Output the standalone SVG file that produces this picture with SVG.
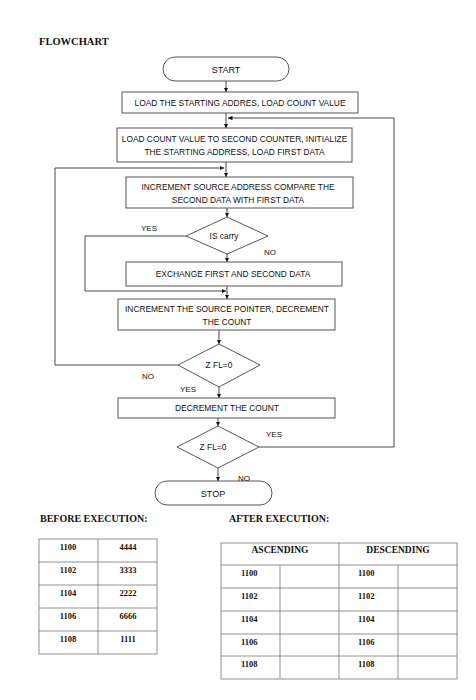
<svg xmlns="http://www.w3.org/2000/svg" width="476" height="700" viewBox="0 0 476 700">
<style>
.bx{fill:#fff;stroke:#444;stroke-width:0.9}
.ln{fill:none;stroke:#333;stroke-width:0.9}
.t{font-family:"Liberation Sans",Arial,sans-serif;font-size:8.4px;fill:#111;text-anchor:middle}
.lb{font-family:"Liberation Sans",Arial,sans-serif;font-size:8px;fill:#111}
.h{font-family:"Liberation Serif","Times New Roman",serif;font-size:10px;font-weight:bold;fill:#111}
.n{font-family:"Liberation Serif","Times New Roman",serif;font-size:8.5px;font-weight:bold;fill:#111}
.tb{fill:none;stroke:#777;stroke-width:0.8}
</style>
<defs>
<marker id="ah" viewBox="0 0 8 8" refX="8" refY="4" markerWidth="4.5" markerHeight="4.5" orient="auto" markerUnits="userSpaceOnUse">
<path d="M0,0 L8,4 L0,8 Z" fill="#111"/>
</marker>
</defs>
<rect width="476" height="700" fill="#fff"/>
<text class="h" x="39" y="45" style="font-size:10.5px">FLOWCHART</text>

<g id="start"><rect class="bx" x="163" y="57" width="126" height="24" rx="12"/><text class="t" x="226" y="72.5" style="font-size:9px">START</text></g>
<g id="load1"><rect class="bx" x="122" y="92" width="236" height="21"/><text class="t" x="240" y="105.5">LOAD THE STARTING ADDRES, LOAD COUNT VALUE</text></g>
<g id="load2"><rect class="bx" x="117" y="128" width="235" height="34"/><text class="t" x="234.5" y="141.5">LOAD COUNT VALUE TO SECOND COUNTER, INITIALIZE</text><text class="t" x="234.5" y="155">THE STARTING ADDRESS, LOAD FIRST DATA</text></g>
<g id="compare"><rect class="bx" x="126" y="177" width="227" height="31"/><text class="t" x="238" y="189.5">INCREMENT SOURCE ADDRESS COMPARE THE</text><text class="t" x="238" y="202.5">SECOND DATA WITH FIRST DATA</text></g>
<g id="iscarry"><polygon class="bx" points="227,217 268,236 227,254 186,236"/><text class="t" x="224" y="239">IS carry</text></g>
<g id="exchange"><rect class="bx" x="126" y="262" width="216" height="24"/><text class="t" x="233" y="277">EXCHANGE FIRST AND SECOND DATA</text></g>
<g id="incptr"><rect class="bx" x="118" y="299" width="217" height="31"/><text class="t" x="227" y="311.5">INCREMENT THE SOURCE POINTER, DECREMENT</text><text class="t" x="227" y="324.5">THE COUNT</text></g>
<g id="zfl1"><polygon class="bx" points="219,344 260,365 219,387 178,365"/><text class="t" x="219" y="368">Z FL=0</text></g>
<g id="deccount"><rect class="bx" x="118" y="398" width="217" height="20"/><text class="t" x="227" y="411">DECREMENT THE COUNT</text></g>
<g id="zfl2"><polygon class="bx" points="218,426 259,447 218,468 177,447"/><text class="t" x="213" y="450">Z FL=0</text></g>
<g id="stop"><rect class="bx" x="155" y="481" width="117" height="24" rx="12"/><text class="t" x="213" y="496.5" style="font-size:9px">STOP</text></g>

<g id="connectors">
<line class="ln" x1="226" y1="81" x2="226" y2="92" marker-end="url(#ah)"/>
<line class="ln" x1="226" y1="113" x2="226" y2="128" marker-end="url(#ah)"/>
<line class="ln" x1="226" y1="162" x2="226" y2="177" marker-end="url(#ah)"/>
<line class="ln" x1="227" y1="208" x2="227" y2="217" marker-end="url(#ah)"/>
<line class="ln" x1="227" y1="254" x2="227" y2="262" marker-end="url(#ah)"/>
<line class="ln" x1="227" y1="286" x2="227" y2="299" marker-end="url(#ah)"/>
<line class="ln" x1="219" y1="330" x2="219" y2="344" marker-end="url(#ah)"/>
<line class="ln" x1="219" y1="387" x2="219" y2="398" marker-end="url(#ah)"/>
<line class="ln" x1="218" y1="418" x2="218" y2="426" marker-end="url(#ah)"/>
<line class="ln" x1="218" y1="468" x2="218" y2="481" marker-end="url(#ah)"/>
<polyline class="ln" points="186,236 85,236 85,291 226,291" marker-end="url(#ah)"/>
<polyline class="ln" points="178,365 55,365 55,168 224,168" marker-end="url(#ah)"/>
<polyline class="ln" points="259,447 394,447 394,118 228,118" marker-end="url(#ah)"/>
<text class="lb" x="141" y="231">YES</text>
<text class="lb" x="264" y="255">NO</text>
<text class="lb" x="142" y="379">NO</text>
<text class="lb" x="180" y="392">YES</text>
<text class="lb" x="266" y="437">YES</text>
<text class="lb" x="238" y="481">NO</text>
</g>

<g id="before">
<text class="h" x="40" y="522">BEFORE EXECUTION:</text>
<rect class="tb" x="39" y="539" width="118" height="115"/>
<line class="tb" x1="98" y1="539" x2="98" y2="654"/>
<line class="tb" x1="39" y1="562" x2="157" y2="562"/>
<line class="tb" x1="39" y1="585" x2="157" y2="585"/>
<line class="tb" x1="39" y1="608" x2="157" y2="608"/>
<line class="tb" x1="39" y1="631" x2="157" y2="631"/>
<g class="n" text-anchor="middle">
<text x="68" y="550">1100</text><text x="128" y="550">4444</text>
<text x="68" y="573">1102</text><text x="128" y="573">3333</text>
<text x="68" y="596">1104</text><text x="128" y="596">2222</text>
<text x="68" y="619">1106</text><text x="128" y="619">6666</text>
<text x="68" y="642">1108</text><text x="128" y="642">1111</text>
</g>
</g>

<g id="after">
<text class="h" x="229" y="522">AFTER EXECUTION:</text>
<rect class="tb" x="221" y="543" width="236" height="136"/>
<line class="tb" x1="339" y1="543" x2="339" y2="679"/>
<line class="tb" x1="280" y1="565" x2="280" y2="679"/>
<line class="tb" x1="398" y1="565" x2="398" y2="679"/>
<line class="tb" x1="221" y1="565" x2="457" y2="565"/>
<line class="tb" x1="221" y1="588" x2="457" y2="588"/>
<line class="tb" x1="221" y1="611" x2="457" y2="611"/>
<line class="tb" x1="221" y1="634" x2="457" y2="634"/>
<line class="tb" x1="221" y1="656" x2="457" y2="656"/>
<text class="h" x="280" y="553" text-anchor="middle" style="font-size:9.5px">ASCENDING</text>
<text class="h" x="398" y="553" text-anchor="middle" style="font-size:9.5px">DESCENDING</text>
<g class="n">
<text x="241" y="576">1100</text><text x="358" y="576">1100</text>
<text x="241" y="599">1102</text><text x="358" y="599">1102</text>
<text x="241" y="622">1104</text><text x="358" y="622">1104</text>
<text x="241" y="645">1106</text><text x="358" y="645">1106</text>
<text x="241" y="667">1108</text><text x="358" y="667">1108</text>
</g>
</g>
</svg>
